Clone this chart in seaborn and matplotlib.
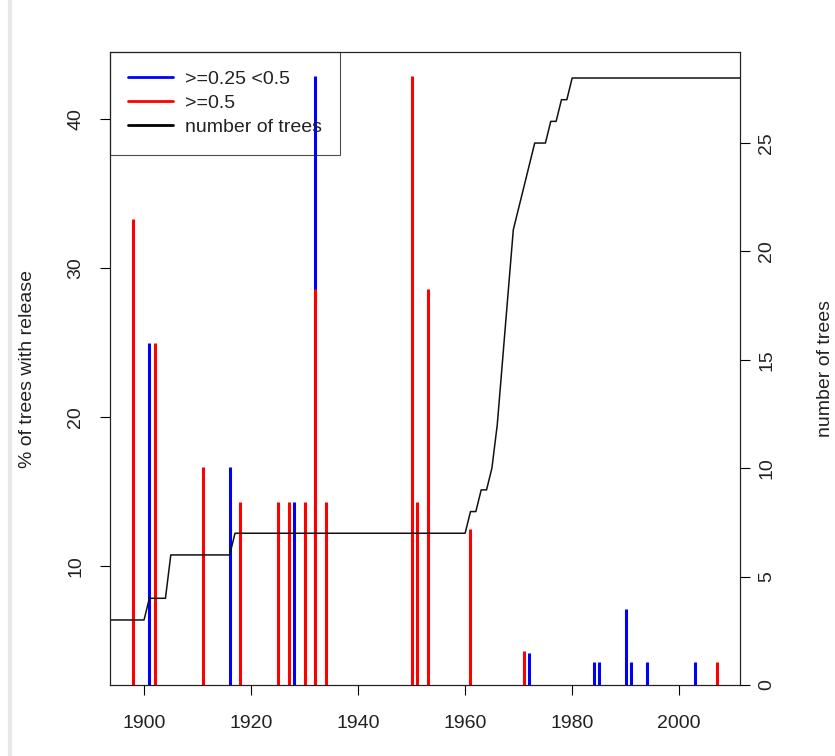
import matplotlib
matplotlib.use("Agg")
import matplotlib.pyplot as plt
import seaborn as sns
from matplotlib.lines import Line2D

# ---- data ----
red_years = [1898, 1902, 1911, 1918, 1925, 1927, 1930, 1932, 1934, 1950, 1951, 1953, 1961, 1971, 2007]
red_pct = [33.33, 25.0, 16.67, 14.29, 14.29, 14.29, 14.29, 28.57, 14.29, 42.86, 14.29, 28.57, 12.5, 4.35, 3.57]
blue_years = [1901, 1916, 1928, 1932, 1972, 1984, 1985, 1990, 1991, 1994, 2003]
blue_pct = [25.0, 16.67, 14.29, 14.29, 4.17, 3.57, 3.57, 7.14, 3.57, 3.57, 3.57]
tree_years = [1890, 1900, 1901, 1904, 1905, 1916, 1917, 1960, 1961, 1962, 1963, 1964, 1965, 1966,
              1967, 1968, 1969, 1970, 1971, 1972, 1973, 1975, 1976, 1977, 1978, 1979, 1980, 2015]
tree_counts = [3, 3, 4, 4, 6, 6, 7, 7, 8, 8, 9, 9, 10, 12,
               15, 18, 21, 22, 23, 24, 25, 25, 26, 26, 27, 27, 28, 28]
x_ticks = [1900, 1920, 1940, 1960, 1980, 2000]
left_ticks = [10, 20, 30, 40]
right_ticks = [0, 5, 10, 15, 20, 25]
legend_labels = [">=0.25 <0.5", ">=0.5", "number of trees"]
legend_colors = ["#0000ff", "#ff0000", "#000000"]

sns.set_theme(style="white")
plt.rcParams["font.family"] = ["Liberation Sans", "DejaVu Sans"]

fig = plt.figure(figsize=(8.35, 7.56), dpi=100)
fig.patch.set_facecolor("white")
ax = fig.add_axes([110 / 835, 1 - 685 / 756, 630 / 835, 633 / 756])

red_map = dict(zip(red_years, red_pct))
blue_top = [b + red_map.get(y, 0) for y, b in zip(blue_years, blue_pct)]
ax.vlines(blue_years, 0, blue_top, color="#0000ff", lw=2.2, capstyle="butt")
ax.vlines(red_years, 0, red_pct, color="#ff0000", lw=2.2, capstyle="butt")
ax.set_xlim(1893.64, 2011.36)
ax.set_ylim(2.04, 44.5)
ax.set_xticks(x_ticks)
ax.set_xticklabels([str(t) for t in x_ticks])
ax.set_yticks(left_ticks)
ax.set_yticklabels([str(t) for t in left_ticks])
ax.tick_params(axis="x", bottom=True, length=7, width=0.8, color="black", pad=14.5,
               labelsize=14, labelcolor="#222222")
ax.tick_params(axis="y", left=True, length=7, width=0.8, color="black", pad=11.5,
               labelsize=14, labelcolor="#222222", labelrotation=90)
for lab in ax.get_yticklabels():
    lab.set_va("center")

ax2 = ax.twinx()
sns.lineplot(x=tree_years, y=tree_counts, ax=ax2, color="#111111", lw=1.1, legend=False)
ax2.set_xlim(1893.64, 2011.36)
ax2.set_ylim(0, 29.2)
ax2.set_yticks(right_ticks)
ax2.set_yticklabels([str(t) for t in right_ticks])
ax2.tick_params(axis="y", right=True, length=7, width=0.8, color="black", pad=6,
                labelsize=14, labelcolor="#222222", labelrotation=90)
for lab in ax2.get_yticklabels():
    lab.set_va("center")
ax2.set_ylabel("")
ax2.set_xlabel("")

for a in (ax, ax2):
    for s in a.spines.values():
        s.set_color("#222222")
        s.set_linewidth(0.8)

handles = [Line2D([], [], color=c, lw=2) for c in legend_colors]
leg = ax2.legend(handles, legend_labels, loc="upper left", bbox_to_anchor=(0, 1),
                 borderaxespad=0, frameon=True, fancybox=False, edgecolor="#222222",
                 facecolor="none", fontsize=14, handlelength=2.3, handletextpad=0.6,
                 borderpad=0.95, labelspacing=0.33)
leg.get_frame().set_linewidth(0.8)
for t in leg.get_texts():
    t.set_color("#222222")

fig.text(28 / 835, 1 - 368.5 / 756, "% of trees with release", rotation=90,
         ha="center", va="center", fontsize=14, color="#222222")
fig.text(825 / 835, 1 - 368.5 / 756, "number of trees", rotation=90,
         ha="center", va="center", fontsize=14, color="#222222")

fig.add_artist(Line2D([10 / 835, 10 / 835], [0, 1], color="#e8e8e8", lw=3,
                      transform=fig.transFigure))

fig.savefig("out.png", dpi=100)
